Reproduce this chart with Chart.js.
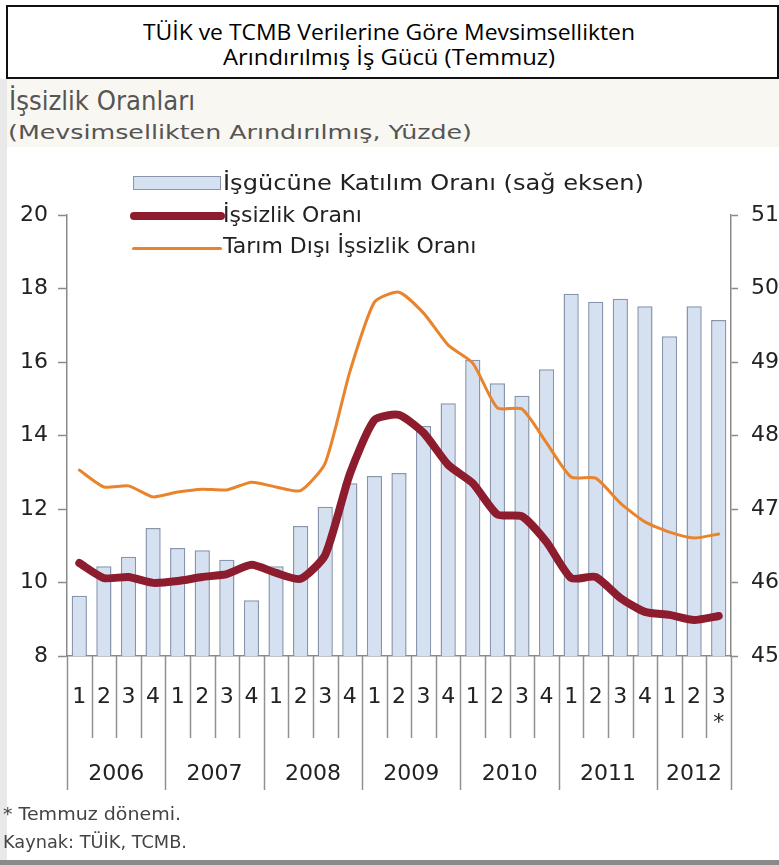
<!DOCTYPE html>
<html>
<head>
<meta charset="utf-8">
<script src="https://cdn.jsdelivr.net/npm/chart.js@4.4.1/dist/chart.umd.min.js"></script>
<style>
  html, body { margin:0; padding:0; }
  body { width:779px; height:865px; overflow:hidden; position:relative; background:#fff; }
  .abs { position:absolute; white-space:nowrap; transform-origin:0 0; }
  #titlebox { position:absolute; left:6px; top:5px; width:773px; height:74px; border:2px solid #111; box-sizing:border-box; background:#fff; }
  .title { font-family:"Open Sans", "Noto Sans", sans-serif; font-size:22px; color:#000; line-height:1; }
  .gothic { font-family:"DejaVu Sans", sans-serif; color:#555; line-height:1; }
  .leg { font-family:"DejaVu Sans", sans-serif; font-size:22px; color:#222; line-height:1; }
  #chartwrap { position:absolute; left:0; top:147px; width:800px; height:713px; }
</style>
</head>
<body>
<div class="abs" style="left:0;top:79px;width:7px;height:781px;background:#e9e9e9;"></div>
<div class="abs" style="left:7px;top:79px;width:772px;height:68px;background:#f9f7f2;"></div>
<div class="abs" style="left:0;top:860px;width:779px;height:5px;background:#8a8a8a;"></div>
<div id="titlebox"></div>
<div class="abs title" data-w="492" data-cx="389" style="top:20px;">TÜİK ve TCMB Verilerine Göre Mevsimsellikten</div>
<div class="abs title" data-w="332" data-cx="389" style="top:45px;">Arındırılmış İş Gücü (Temmuz)</div>
<div class="abs gothic" data-w="186" style="left:9px;top:88px;font-size:26px;">İşsizlik Oranları</div>
<div class="abs gothic" data-w="464" style="left:8px;top:122px;font-size:20px;">(Mevsimsellikten Arındırılmış, Yüzde)</div>

<div id="chartwrap"><canvas id="c" width="800" height="713"></canvas></div>

<div class="abs" style="left:133px;top:176px;width:88px;height:14px;background:#d5e0f1;border:1.5px solid #8796ad;box-sizing:border-box;"></div>
<div class="abs" style="left:130px;top:212px;width:95px;height:8px;background:#8c1c2e;border-radius:4px;"></div>
<div class="abs" style="left:132px;top:247px;width:90px;height:3px;background:#e9842c;border-radius:2px;"></div>
<div class="abs leg" data-w="421" style="left:223px;top:172px;">İşgücüne Katılım Oranı (sağ eksen)</div>
<div class="abs leg" style="left:223px;top:204px;">İşsizlik Oranı</div>
<div class="abs leg" style="left:223px;top:235px;">Tarım Dışı İşsizlik Oranı</div>

<div class="abs gothic" data-w="178" style="left:3px;top:806px;font-size:17px;color:#444;">* Temmuz dönemi.</div>
<div class="abs gothic" data-w="184" style="left:3px;top:834px;font-size:17px;color:#444;">Kaynak: TÜİK, TCMB.</div>

<script>
// ---- data ----
const categories = ['1','2','3','4','1','2','3','4','1','2','3','4','1','2','3','4','1','2','3','4','1','2','3','4','1','2',['3','*']];
const years = ['2006','2007','2008','2009','2010','2011','2012'];
const quartersPerYear = [4,4,4,4,4,4,3];
const participation = [45.82,46.22,46.35,46.74,46.47,46.44,46.31,45.76,46.22,46.77,47.03,47.35,47.45,47.49,48.13,48.44,49.03,48.71,48.54,48.90,49.93,49.82,49.86,49.76,49.35,49.76,49.57];
const unemployment = [10.53,10.12,10.15,9.99,10.04,10.15,10.23,10.48,10.26,10.10,10.75,12.95,14.42,14.56,14.07,13.2,12.7,11.85,11.8,11.1,10.12,10.15,9.58,9.2,9.12,8.98,9.09];
const nonfarm = [13.06,12.6,12.63,12.33,12.46,12.54,12.52,12.73,12.6,12.5,13.25,15.73,17.63,17.9,17.33,16.46,15.97,14.75,14.72,13.8,12.87,12.84,12.16,11.65,11.37,11.21,11.32];
const leftAxis = { min: 8, max: 20, step: 2 };
const rightAxis = { min: 45, max: 51, step: 1 };

// fit html text widths
document.querySelectorAll('[data-w]').forEach(el => {
  const w = el.getBoundingClientRect().width;
  const target = parseFloat(el.dataset.w);
  el.style.transform = 'scaleX(' + (target / w) + ')';
  if (el.dataset.cx) el.style.left = (parseFloat(el.dataset.cx) - target / 2) + 'px';
});

const axisColor = '#8a8a8a';
const tickFont = { family: 'DejaVu Sans', size: 22 };

const separators = {
  id: 'separators',
  afterDraw(chart) {
    const ctx = chart.ctx;
    const x = chart.scales.x;
    const top = chart.chartArea.bottom;
    const n = categories.length;
    const bounds = [];
    for (let i = 0; i <= n; i++) bounds.push(x.getPixelForValue(i - 0.5));
    const yearStarts = new Set();
    let acc = 0;
    yearStarts.add(0);
    quartersPerYear.forEach(q => { acc += q; yearStarts.add(acc); });
    ctx.save();
    ctx.strokeStyle = '#909090';
    ctx.lineWidth = 1.5;
    for (let i = 0; i <= n; i++) {
      const px = Math.round(bounds[i]) + 0.5;
      ctx.beginPath();
      ctx.moveTo(px, top);
      ctx.lineTo(px, yearStarts.has(i) ? top + 134 : top + 82);
      ctx.stroke();
    }
    ctx.fillStyle = '#222';
    ctx.font = '22px "DejaVu Sans"';
    ctx.textAlign = 'center';
    ctx.textBaseline = 'middle';
    let s = 0;
    years.forEach((y, k) => {
      const e = s + quartersPerYear[k];
      ctx.fillText(y, (bounds[s] + bounds[e]) / 2, top + 118);
      s = e;
    });
    ctx.restore();
  }
};

new Chart(document.getElementById('c'), {
  data: {
    labels: categories,
    datasets: [
      { type: 'line', label: 'İşsizlik Oranı', data: unemployment, yAxisID: 'y', order: 1,
        borderColor: '#8c1c2e', borderWidth: 8, pointRadius: 0, tension: 0.2,
        borderCapStyle: 'round', borderJoinStyle: 'round' },
      { type: 'line', label: 'Tarım Dışı İşsizlik Oranı', data: nonfarm, yAxisID: 'y', order: 2,
        borderColor: '#e9842c', borderWidth: 3, pointRadius: 0, tension: 0.2,
        borderCapStyle: 'round', borderJoinStyle: 'round' },
      { type: 'bar', label: 'İşgücüne Katılım Oranı (sağ eksen)', data: participation, yAxisID: 'y1', order: 3,
        backgroundColor: '#d5e0f1', borderColor: '#8796ad', borderWidth: 1.5,
        barPercentage: 0.62, categoryPercentage: 1 }
    ]
  },
  options: {
    responsive: false,
    devicePixelRatio: 1,
    animation: false,
    layout: { padding: { top: 68, left: 0, right: 0, bottom: 0 } },
    plugins: { legend: { display: false }, tooltip: { enabled: false } },
    scales: {
      x: {
        type: 'category', offset: true,
        grid: { display: false, offset: true },
        border: { display: true, color: axisColor, width: 1.5 },
        ticks: { autoSkip: false, maxRotation: 0, color: '#222', font: tickFont, padding: 20 },
        afterFit(s) { s.height = 204; }
      },
      y: {
        position: 'left', min: leftAxis.min, max: leftAxis.max,
        ticks: { stepSize: leftAxis.step, color: '#222', font: tickFont, padding: 10 },
        grid: { drawOnChartArea: false, tickLength: 9, tickColor: axisColor, tickWidth: 1.5 },
        border: { display: true, color: axisColor, width: 1.5 },
        afterFit(s) { s.width = 67; }
      },
      y1: {
        position: 'right', min: rightAxis.min, max: rightAxis.max,
        ticks: { stepSize: rightAxis.step, color: '#222', font: tickFont, padding: 13 },
        grid: { drawOnChartArea: false, tickLength: 7, tickColor: axisColor, tickWidth: 1.5 },
        border: { display: true, color: axisColor, width: 1.5 },
        afterFit(s) { s.width = 69; }
      }
    }
  },
  plugins: [separators]
});
</script>
</body>
</html>
